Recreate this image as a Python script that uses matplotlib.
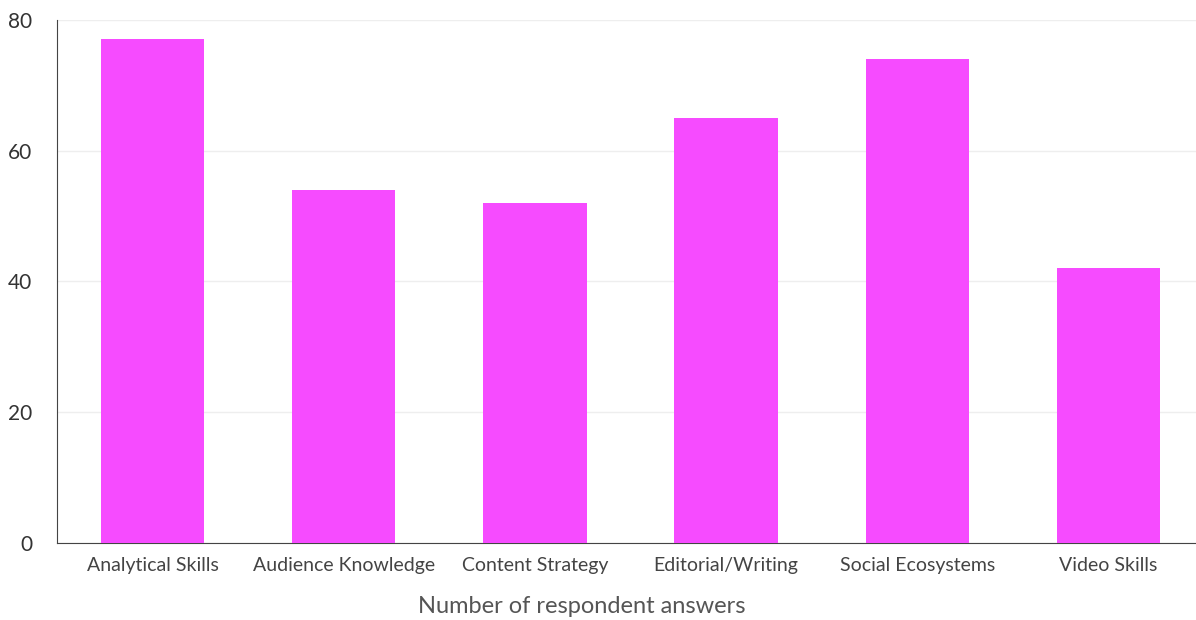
import matplotlib
matplotlib.use("Agg")
import matplotlib.pyplot as plt

categorii = ["Analytical Skills", "Audience Knowledge", "Content Strategy",
             "Editorial/Writing", "Social Ecosystems", "Video Skills"]
valori = [77, 54, 52, 65, 74, 42]
y_ticks = [0, 20, 40, 60, 80]

plt.rcParams["font.family"] = ["Lato", "DejaVu Sans"]

fig = plt.figure(figsize=(11.96, 6.2), dpi=100)
ax = fig.add_axes([0.0477, 0.124, 0.959, 0.844])

x = range(len(categorii))
ax.bar(x, valori, width=0.54, color="#F64BFF", zorder=3)

ax.set_xlim(-0.5, len(categorii) - 0.5)
ax.set_ylim(0, 80)
ax.set_yticks(y_ticks)
ax.set_xticks(list(x))
ax.set_xticklabels(categorii, fontsize=14, color="#444444")
ax.tick_params(axis="y", labelsize=15, labelcolor="#333333", length=0, pad=18)
ax.tick_params(axis="x", length=0, pad=10)

ax.yaxis.grid(True, color="#eeeeee", linewidth=1, zorder=0)
for s in ["top", "right"]:
    ax.spines[s].set_visible(False)
ax.spines["left"].set_color("#444444")
ax.spines["bottom"].set_color("#444444")

# titlul axei x e centrat pe figura, nu pe axe
fig.text(0.4866, 0.021, "Number of respondent answers", fontsize=17,
         color="#555555", ha="center", va="center")

fig.savefig("out.png", dpi=100)
